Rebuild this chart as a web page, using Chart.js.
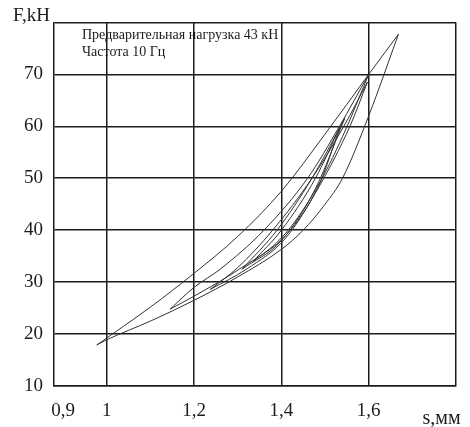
<!DOCTYPE html>
<html>
<head>
<meta charset="utf-8">
<script src="https://cdn.jsdelivr.net/npm/chart.js@4"></script>
<style>
  html, body { margin: 0; padding: 0; background: #ffffff; }
  #wrap { width: 470px; height: 427px; }
</style>
</head>
<body>
<div id="wrap"><canvas id="hyst"></canvas></div>
<script>
// axis ticks
const xTicks = [0.9, 1, 1.2, 1.4, 1.6, 1.8];
const xTickLabels = ['0,9', '1', '1,2', '1,4', '1,6', ''];
const yTicks = [10, 20, 30, 40, 50, 60, 70, 80];
const yTickLabels = ['10', '20', '30', '40', '50', '60', '70', ''];

// loop A (largest)
const sA_up = [0.977, 1.1, 1.2, 1.3, 1.4, 1.5, 1.6, 1.668];
const fA_up = [17.9, 25.2, 31.7, 38.8, 47.5, 58.5, 70, 77.7];
const sA_lo = [0.977, 1.0, 1.1, 1.2, 1.3, 1.4, 1.45, 1.5, 1.54, 1.6, 1.668];
const fA_lo = [17.9, 18.9, 22.5, 26.5, 31, 36.3, 40, 45, 50, 62, 77.7];

// loop B
const sB_up = [1.145, 1.2, 1.26, 1.36, 1.46, 1.533, 1.6];
const fB_up = [24.8, 29, 32.5, 40, 50, 60, 70];
const sB_lo = [1.145, 1.2, 1.3, 1.4, 1.48, 1.54, 1.6];
const fB_lo = [24.8, 27.3, 32.3, 38.5, 48, 58, 70];

// loop C
const sC_up = [1.237, 1.3, 1.38, 1.47, 1.543, 1.597];
const fC_up = [28.6, 32.8, 40, 50, 60, 68.5];
const sC_lo = [1.237, 1.32, 1.41, 1.487, 1.557, 1.597];
const fC_lo = [28.6, 32.5, 38.5, 48.5, 60, 68.5];

// loop D
const sD_up = [1.31, 1.39, 1.47, 1.545];
const fD_up = [32.5, 40, 50, 61.5];
const sD_lo = [1.31, 1.4, 1.478, 1.545];
const fD_lo = [32.5, 38, 48, 61.5];

// loop E
const sE_up = [1.335, 1.4, 1.478, 1.535];
const fE_up = [34, 40, 50, 60];
const sE_lo = [1.335, 1.41, 1.485, 1.535];
const fE_lo = [34, 39, 48.5, 60];

const noteLines = ['Предварительная нагрузка 43 кН', 'Частота 10 Гц'];
const yTitle = 'F,kH';
const xTitle = 's,мм';

const SERIF = "'Liberation Serif', 'DejaVu Serif', serif";
const INK = '#1c1c1c';

function branch(sArr, fArr) {
    return {
        data: sArr.map((s, i) => ({ x: s, y: fArr[i] })),
        borderColor: '#333333',
        borderWidth: 1,
        pointRadius: 0,
        showLine: true,
        fill: false,
        cubicInterpolationMode: 'monotone'
    };
}

const textPlugin = {
    id: 'texts',
    beforeDraw(chart) {
        const c = chart.ctx;
        c.save();
        c.fillStyle = '#ffffff';
        c.fillRect(0, 0, chart.width, chart.height);
        c.restore();
    },
    afterDraw(chart) {
        const c = chart.ctx;
        const xs = chart.scales.x;
        c.save();
        c.fillStyle = INK;
        c.textBaseline = 'alphabetic';
        c.textAlign = 'left';
        c.font = '19px ' + SERIF;
        c.fillText(yTitle, 13, 21);
        c.textAlign = 'center';
        c.font = '20px ' + SERIF;
        c.fillText(xTitle, xs.getPixelForValue(1.767), 424);
        c.textAlign = 'left';
        c.font = '14px ' + SERIF;
        c.fillText(noteLines[0], 82, 39);
        c.fillText(noteLines[1], 82, 56);
        c.restore();
    }
};

new Chart(document.getElementById('hyst'), {
    type: 'scatter',
    data: {
        datasets: [
            branch(sA_up, fA_up), branch(sA_lo, fA_lo),
            branch(sB_up, fB_up), branch(sB_lo, fB_lo),
            branch(sC_up, fC_up), branch(sC_lo, fC_lo),
            branch(sD_up, fD_up), branch(sD_lo, fD_lo),
            branch(sE_up, fE_up), branch(sE_lo, fE_lo)
        ]
    },
    options: {
        responsive: true,
        maintainAspectRatio: false,
        animation: false,
        layout: { padding: { top: 21, right: 13, left: 0, bottom: 0 } },
        scales: {
            x: {
                type: 'linear',
                min: 0.879,
                max: 1.8,
                afterBuildTicks: s => { s.ticks = xTicks.map(v => ({ value: v })); },
                afterFit: s => { s.height = 41; },
                grid: {
                    color: ctx => (ctx.tick && ctx.tick.value === 0.9) ? 'rgba(0,0,0,0)' : INK,
                    lineWidth: 1.5,
                    drawTicks: false
                },
                border: { display: true, color: INK, width: 1.5 },
                ticks: {
                    autoSkip: false,
                    maxRotation: 0,
                    padding: 14,
                    color: INK,
                    font: { family: SERIF, size: 19 },
                    callback: v => { const i = xTicks.indexOf(v); return i < 0 ? '' : xTickLabels[i]; }
                }
            },
            y: {
                type: 'linear',
                min: 10,
                max: 80,
                afterBuildTicks: s => { s.ticks = yTicks.map(v => ({ value: v })); },
                afterFit: s => { s.width = 54; },
                grid: { color: INK, lineWidth: 1.5, drawTicks: false },
                border: { display: true, color: INK, width: 1.5 },
                ticks: {
                    padding: 11,
                    color: INK,
                    font: { family: SERIF, size: 19 },
                    callback: v => { const i = yTicks.indexOf(v); return i < 0 ? '' : yTickLabels[i]; }
                }
            }
        },
        plugins: {
            legend: { display: false },
            tooltip: { enabled: false }
        }
    },
    plugins: [textPlugin]
});
</script>
</body>
</html>
